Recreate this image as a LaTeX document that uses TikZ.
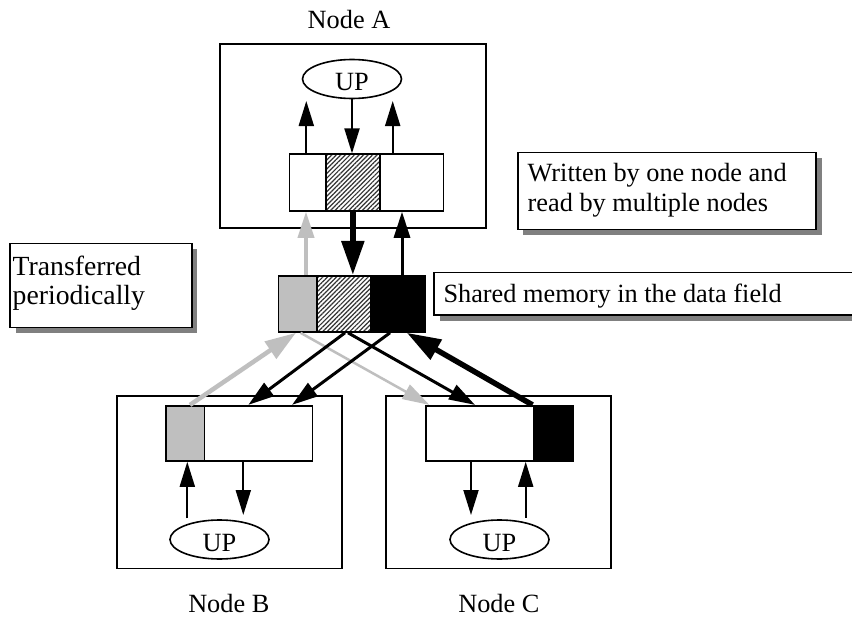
\documentclass[tikz,border=0pt]{standalone}
\usepackage{fontspec}
\setmainfont{Liberation Serif}
\usetikzlibrary{arrows.meta,patterns.meta,shapes.geometric,shadows,calc}

\begin{document}
\begin{tikzpicture}[x=1pt,y=-1pt,
  every node/.style={font=\fontsize{26.3}{30}\selectfont},
  nodebox/.style={draw, line width=1.7pt, inner sep=0pt},
  cell/.style={draw, line width=1.6pt, inner sep=0pt},
  hatched/.style={pattern={Lines[angle=45,distance=3.2pt,line width=1.2pt]}, pattern color=black!80},
  lightcell/.style={fill=black!25},
  darkcell/.style={fill=black},
  upell/.style={ellipse, draw, line width=1.6pt, minimum width=99pt, minimum height=39pt,
                inner sep=0pt, text height=23pt, text depth=0pt},
  note/.style={draw, line width=1.6pt, fill=white, inner sep=0pt,
               drop shadow={shadow xshift=5.5pt, shadow yshift=-5.5pt, fill=black!50, opacity=1}},
  txt/.style={inner sep=0pt, anchor=base west},
  nodetitle/.style={inner sep=0pt, anchor=base},
  thinarrow/.style={line width=2pt, -{Triangle[length=25pt, width=15pt]}},
  medarrow/.style={line width=3pt, -{Triangle[length=26pt, width=16pt]}},
  heavyarrow/.style={line width=5.5pt, -{Triangle[length=34pt, width=22pt]}},
  grayup/.style={line width=3.5pt, draw=black!25, -{Triangle[length=26pt, width=16pt]}},
  graythin/.style={line width=2.5pt, draw=black!25, -{Triangle[length=27pt, width=16pt]}},
  graythick/.style={line width=4.5pt, draw=black!25, -{Triangle[length=31pt, width=20pt]}}
]
\path[fill=white, use as bounding box] (0,0) rectangle (852,618);
\clip (0,0) rectangle (852,618);

% ---------- Node A ----------
\node[nodebox, minimum width=266pt, minimum height=184pt] (boxA) at (353,136) {};
\node[nodetitle] (titleA) at (349,28.3) {Node A};
\node[upell] (upA) at (352,79) {UP};
\node[cell, minimum width=36.4pt, minimum height=57pt] (rA1) at (307.5,182.5) {};
\node[cell, hatched, minimum width=54.3pt, minimum height=57pt] (rA2) at (352.85,182.5) {};
\node[cell, minimum width=63.3pt, minimum height=57pt] (rA3) at (411.65,182.5) {};

\coordinate (a1) at (306.3,101);
\coordinate (a3) at (392.7,101);
\draw[thinarrow] (rA1.north -| a1) -- (a1);
\draw[thinarrow] (upA.south) -- (upA.south |- rA2.north);
\draw[thinarrow] (rA3.north -| a3) -- (a3);

% ---------- shared memory ----------
\node[cell, lightcell, minimum width=38.4pt, minimum height=56.3pt] (smG) at (297.5,303.85) {};
\node[cell, hatched, minimum width=53.6pt, minimum height=56.3pt] (smH) at (343.5,303.85) {};
\node[cell, darkcell, minimum width=55pt, minimum height=56.3pt] (smK) at (397.8,303.85) {};

% ---------- Node B ----------
\node[nodebox, minimum width=225.6pt, minimum height=172.8pt] (boxB) at (229.5,482.1) {};
\node[nodetitle] (titleB) at (228.8,612.3) {Node B};
\node[upell] (upB) at (219.5,539.5) {UP};
\node[cell, lightcell, minimum width=38.6pt, minimum height=55.3pt] (rB1) at (185,433.35) {};
\node[cell, minimum width=108pt, minimum height=55.3pt] (rB2) at (258.3,433.35) {};

\coordinate (b1) at (187.3,518.3);
\coordinate (b2) at (243.3,515);
\draw[thinarrow] (b1) -- (b1 |- rB1.south);
\draw[thinarrow] (b2 |- rB2.south) -- (b2);

% ---------- Node C ----------
\node[nodebox, minimum width=225.3pt, minimum height=172.8pt] (boxC) at (498.35,482.1) {};
\node[nodetitle] (titleC) at (498.8,612.3) {Node C};
\node[upell] (upC) at (499.5,539.5) {UP};
\node[cell, minimum width=107.6pt, minimum height=55.3pt] (rC1) at (479.5,433.35) {};
\node[cell, darkcell, minimum width=40pt, minimum height=55.3pt] (rC2) at (553.3,433.35) {};

\coordinate (c1) at (471,515);
\coordinate (c2) at (525.7,517.7);
\draw[thinarrow] (c1 |- rC1.south) -- (c1);
\draw[thinarrow] (c2) -- (c2 |- rC1.south);

% ---------- transfers between node A and the shared memory ----------
\draw[grayup] ([xshift=8.5pt]smG.north) -- ([xshift=-1.5pt]rA1.south);
\draw[heavyarrow] (rA2.south) -- (rA2.south |- smH.north);
\draw[medarrow] ([xshift=4.2pt]smK.north) -- ([xshift=4.2pt]smK.north |- rA3.south);

% ---------- transfers between the shared memory and nodes B, C ----------
\draw[graythin] ([xshift=3pt]smG.south) -- ([xshift=4.5pt]rC1.north west);
\draw[graythick] ([xshift=5pt]rB1.north) -- ([xshift=-1.5pt]smG.south);
\draw[medarrow] ([xshift=1.5pt]smH.south) -- ([xshift=-10pt]rB2.north);
\draw[medarrow] ([xshift=4.5pt]smH.south) -- ([xshift=-4.5pt]rC1.north);
\draw[medarrow] ([xshift=-7.8pt]smK.south) -- ([xshift=33.7pt]rB2.north);
\draw[heavyarrow] (rC2.north west) -- ([xshift=9pt]smK.south);

% ---------- notes ----------
\node[note, minimum width=181.7pt, minimum height=84pt] (noteT) at (100.85,285.3) {};
\node[txt, font=\fontsize{27.7}{30}\selectfont] (noteT1) at (12.5,275) {Transferred};
\node[txt, font=\fontsize{27.7}{30}\selectfont] (noteT2) at (12.5,304.3) {periodically};

\node[note, minimum width=298.3pt, minimum height=77pt] (noteW) at (666.85,190.8) {};
\node[txt] (noteW1) at (527.5,181.7) {Written by one node and};
\node[txt] (noteW2) at (527.5,211.7) {read by multiple nodes};

\node[note, minimum width=440pt, minimum height=42.6pt, anchor=north west] (noteS) at (433.3,271.7) {};
\node[txt] (noteS1) at (443.3,302.3) {Shared memory in the data field};
\end{tikzpicture}
\end{document}
